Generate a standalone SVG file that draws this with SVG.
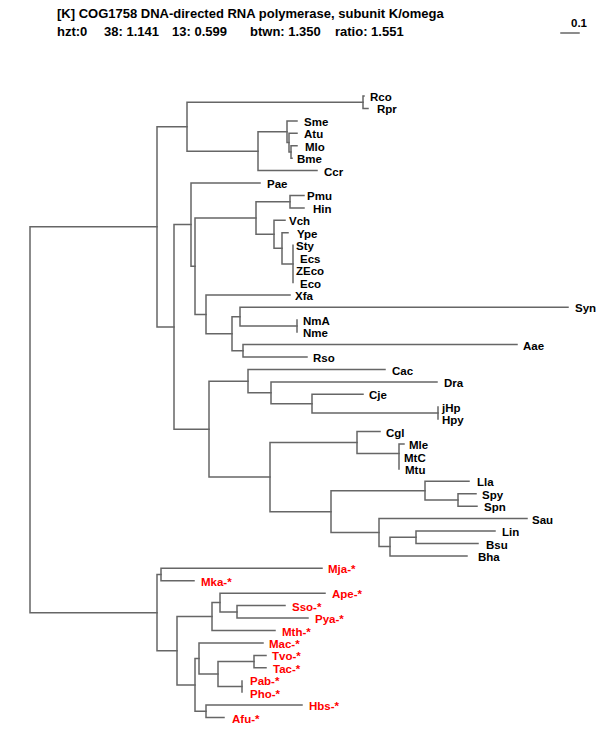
<svg xmlns="http://www.w3.org/2000/svg" width="600" height="750" viewBox="0 0 600 750">
<style>
.hd{font-family:"Liberation Sans",Arial,sans-serif;font-weight:bold;font-size:13px;fill:#000}
.lb{font-family:"Liberation Sans",Arial,sans-serif;font-weight:bold;font-size:11.5px;fill:#000}
.ar{fill:#ff0000}
.br{fill:none;stroke:#666666;stroke-width:1.5;stroke-linecap:square}
</style>
<rect width="600" height="750" fill="#fff"/>
<g id="header">
<text class="hd" x="57" y="18">[K] COG1758 DNA-directed RNA polymerase, subunit K/omega</text>
<text class="hd" y="36"><tspan x="57">hzt:0</tspan><tspan x="104">38: 1.141</tspan><tspan x="172">13: 0.599</tspan><tspan x="250">btwn: 1.350</tspan><tspan x="335">ratio: 1.551</tspan></text>
</g>
<g id="scale">
<path class="br" d="M561,33 H579"/>
<text class="lb" x="571" y="27">0.1</text>
</g>
<g id="connectors" class="br">
<path d="M30,226.8 V612.7 M30,226.8 H157 M30,612.7 H157"/>
<path d="M157,126.7 V326.9 M157,126.7 H187 M157,326.9 H174"/>
<path d="M187,102.2 V151.2 M187,102.2 H363 M187,151.2 H258"/>
<path d="M363,96 V108.4 M363,96 H364 M363,108.4 H368"/>
<path d="M258,131.8 V170.6 M258,131.8 H287 M258,170.6 H317"/>
<path d="M287,120.9 V142.6 M287,120.9 H297 M287,142.6 H289"/>
<path d="M289,133.3 V152 M289,133.3 H297 M289,152 H291"/>
<path d="M291,145.7 V158.2 M291,145.7 H297 M291,158.2 H292"/>
<path d="M174,224.6 V429.2 M174,224.6 H191 M174,429.2 H209"/>
<path d="M191,183 V266.2 M191,183 H260 M191,266.2 H195"/>
<path d="M195,218 V314.4 M195,218 H256 M195,314.4 H206"/>
<path d="M256,201.7 V234.3 M256,201.7 H290 M256,234.3 H274"/>
<path d="M290,195.4 V207.9 M290,195.4 H304 M290,207.9 H304"/>
<path d="M274,220.3 V248.3 M274,220.3 H285 M274,248.3 H282"/>
<path d="M282,232.7 V263.9 M282,232.7 H288 M282,263.9 H293"/>
<path d="M293,245.2 V282.5"/>
<path d="M206,294.9 V333.8 M206,294.9 H290 M206,333.8 H232"/>
<path d="M232,316.7 V350.8 M232,316.7 H240 M232,350.8 H243"/>
<path d="M240,307.3 V326 M240,307.3 H568 M240,326 H297"/>
<path d="M297,320 V332"/>
<path d="M243,344.6 V357 M243,344.6 H517 M243,357 H307"/>
<path d="M209,381.2 V477.1 M209,381.2 H248 M209,477.1 H270"/>
<path d="M248,369.5 V392.8 M248,369.5 H385 M248,392.8 H271"/>
<path d="M271,381.9 V403.7 M271,381.9 H437 M271,403.7 H312"/>
<path d="M312,394.3 V413 M312,394.3 H363 M312,413 H438"/>
<path d="M438,407 V419"/>
<path d="M270,442.5 V511.7 M270,442.5 H357 M270,511.7 H331"/>
<path d="M357,431.6 V453.4 M357,431.6 H380 M357,453.4 H399"/>
<path d="M399,444 V468.9 M399,444 H404"/>
<path d="M331,490.7 V532.6 M331,490.7 H425 M331,532.6 H379"/>
<path d="M425,481.3 V500 M425,481.3 H469 M425,500 H458"/>
<path d="M458,493.8 V506.2 M458,493.8 H476 M458,506.2 H477"/>
<path d="M379,518.6 V546.6 M379,518.6 H527 M379,546.6 H390"/>
<path d="M390,537.3 V555.9 M390,537.3 H416 M390,555.9 H467"/>
<path d="M416,531.1 V543.5 M416,531.1 H495 M416,543.5 H478"/>
<path d="M157,574.6 V650.8 M157,574.6 H161 M157,650.8 H177"/>
<path d="M161,568.3 V580.8 M161,568.3 H322 M161,580.8 H194"/>
<path d="M177,616.6 V684.9 M177,616.6 H212 M177,684.9 H195"/>
<path d="M212,602.6 V630.5 M212,602.6 H220 M212,630.5 H275"/>
<path d="M220,593.2 V611.9 M220,593.2 H325 M220,611.9 H237"/>
<path d="M237,605.6 V618.1 M237,605.6 H285 M237,618.1 H308"/>
<path d="M195,658.5 V711.3 M195,658.5 H199 M195,711.3 H206"/>
<path d="M199,642.9 V674 M199,642.9 H263 M199,674 H218"/>
<path d="M218,661.6 V686.4 M218,661.6 H254 M218,686.4 H242"/>
<path d="M254,655.4 V667.8 M254,655.4 H266 M254,667.8 H266"/>
<path d="M242,681 V692"/>
<path d="M206,705.1 V717.5 M206,705.1 H302 M206,717.5 H224"/>
</g>
<g id="leaves" class="lb">
<g id="n-Rco"><text x="370" y="101">Rco</text></g>
<g id="n-Rpr"><text x="377" y="113.4">Rpr</text></g>
<g id="n-Sme"><text x="304" y="125.9">Sme</text></g>
<g id="n-Atu"><text x="304" y="138.3">Atu</text></g>
<g id="n-Mlo"><text x="305" y="150.7">Mlo</text></g>
<g id="n-Bme"><text x="297" y="163.2">Bme</text></g>
<g id="n-Ccr"><text x="324" y="175.6">Ccr</text></g>
<g id="n-Pae"><text x="267" y="188">Pae</text></g>
<g id="n-Pmu"><text x="307" y="200.4">Pmu</text></g>
<g id="n-Hin"><text x="313" y="212.9">Hin</text></g>
<g id="n-Vch"><text x="289" y="225.3">Vch</text></g>
<g id="n-Ype"><text x="297" y="237.7">Ype</text></g>
<g id="n-Sty"><text x="296" y="250.2">Sty</text></g>
<g id="n-Ecs"><text x="300" y="262.6">Ecs</text></g>
<g id="n-ZEco"><text x="296" y="275">ZEco</text></g>
<g id="n-Eco"><text x="300" y="287.5">Eco</text></g>
<g id="n-Xfa"><text x="295" y="299.9">Xfa</text></g>
<g id="n-Syn"><text x="575" y="312.3">Syn</text></g>
<g id="n-NmA"><text x="303" y="324.7">NmA</text></g>
<g id="n-Nme"><text x="303" y="337.2">Nme</text></g>
<g id="n-Aae"><text x="523" y="349.6">Aae</text></g>
<g id="n-Rso"><text x="313" y="362">Rso</text></g>
<g id="n-Cac"><text x="392" y="374.5">Cac</text></g>
<g id="n-Dra"><text x="444" y="386.9">Dra</text></g>
<g id="n-Cje"><text x="369" y="399.3">Cje</text></g>
<g id="n-jHp"><text x="442" y="411.8">jHp</text></g>
<g id="n-Hpy"><text x="442" y="424.2">Hpy</text></g>
<g id="n-Cgl"><text x="386" y="436.6">Cgl</text></g>
<g id="n-Mle"><text x="409" y="449">Mle</text></g>
<g id="n-MtC"><text x="404" y="461.5">MtC</text></g>
<g id="n-Mtu"><text x="405" y="473.9">Mtu</text></g>
<g id="n-Lla"><text x="477" y="486.3">Lla</text></g>
<g id="n-Spy"><text x="482" y="498.8">Spy</text></g>
<g id="n-Spn"><text x="484" y="511.2">Spn</text></g>
<g id="n-Sau"><text x="532" y="523.6">Sau</text></g>
<g id="n-Lin"><text x="502" y="536.1">Lin</text></g>
<g id="n-Bsu"><text x="486" y="548.5">Bsu</text></g>
<g id="n-Bha"><text x="478" y="560.9">Bha</text></g>
<g id="n-Mja"><text class="ar" x="328" y="573.3">Mja-*</text></g>
<g id="n-Mka"><text class="ar" x="201" y="585.8">Mka-*</text></g>
<g id="n-Ape"><text class="ar" x="332" y="598.2">Ape-*</text></g>
<g id="n-Sso"><text class="ar" x="292" y="610.6">Sso-*</text></g>
<g id="n-Pya"><text class="ar" x="315" y="623.1">Pya-*</text></g>
<g id="n-Mth"><text class="ar" x="282" y="635.5">Mth-*</text></g>
<g id="n-Mac"><text class="ar" x="269" y="647.9">Mac-*</text></g>
<g id="n-Tvo"><text class="ar" x="272" y="660.4">Tvo-*</text></g>
<g id="n-Tac"><text class="ar" x="273" y="672.8">Tac-*</text></g>
<g id="n-Pab"><text class="ar" x="250" y="685.2">Pab-*</text></g>
<g id="n-Pho"><text class="ar" x="250" y="697.6">Pho-*</text></g>
<g id="n-Hbs"><text class="ar" x="309" y="710.1">Hbs-*</text></g>
<g id="n-Afu"><text class="ar" x="232" y="722.5">Afu-*</text></g>
</g>
</svg>
